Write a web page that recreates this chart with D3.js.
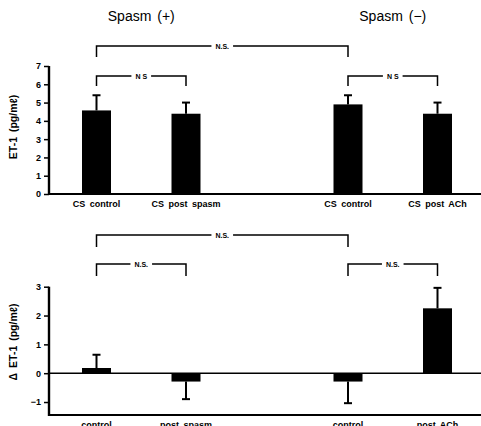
<!DOCTYPE html>
<html>
<head>
<meta charset="utf-8">
<script src="https://cdn.jsdelivr.net/npm/d3@7"></script>
<style>
  body { margin: 0; background: #fff; }
  svg { display: block; font-family: "Liberation Sans", Arial, sans-serif; }
</style>
</head>
<body>
<svg id="chart" width="481" height="426"></svg>
<script>
// data
var groups = ["Spasm (+)", "Spasm (\u2212)"];
var topCategories = ["CS control", "CS post spasm", "CS control", "CS post ACh"];
var topMean = [4.57, 4.39, 4.9, 4.39];
var topSD = [0.83, 0.61, 0.5, 0.61];
var topTicks = [0, 1, 2, 3, 4, 5, 6, 7];

var deltaCategories = ["control", "post spasm", "control", "post ACh"];
var deltaMean = [0.18, -0.29, -0.29, 2.25];
var deltaSD = [0.46, 0.61, 0.75, 0.71];
var deltaTicks = [-1, 0, 1, 2, 3];

var W = 481, axisX = 49, barW = 29;

var svg = d3.select("#chart");

// x: group centers, then two bars per group
var xGroup = d3.scalePoint().domain(groups).range([141.25, 392.75]);
var xInner = d3.scalePoint().domain([0, 1]).range([-44.75, 44.75]);
function xc(i) {
	return xGroup(groups[Math.floor(i / 2)]) + xInner(i % 2);
}

// group titles
svg.selectAll("text.group")
	.data(groups)
	.enter()
	.append("text")
	.attr("class", "group")
	.attr("x", function(d) { return xGroup(d); })
	.attr("y", 21)
	.attr("text-anchor", "middle")
	.style("font-size", "14px")
	.style("word-spacing", "2px")
	.text(function(d) { return d; });

function drawPanel(opt) {
	var y = d3.scaleLinear().domain(opt.domain).range(opt.range);
	var g = svg.append("g");

	// baseline / frame
	g.append("line")
		.attr("x1", axisX).attr("x2", W)
		.attr("y1", opt.range[0]).attr("y2", opt.range[0])
		.attr("stroke", "#000").attr("stroke-width", 2.2);

	if (opt.zeroLine) {
		g.append("line")
			.attr("x1", axisX).attr("x2", W)
			.attr("y1", y(0)).attr("y2", y(0))
			.attr("stroke", "#000").attr("stroke-width", 1.5);
	}

	// left axis
	var axis = d3.axisLeft(y)
		.tickValues(opt.ticks)
		.tickSize(5)
		.tickPadding(3)
		.tickFormat(function(d) { return d < 0 ? "\u2212" + Math.abs(d) : d; });
	var ag = g.append("g")
		.attr("transform", "translate(" + axisX + ",0)")
		.call(axis);
	ag.select(".domain").remove();
	ag.append("line")
		.attr("x1", 0).attr("x2", 0)
		.attr("y1", opt.range[0] + 1).attr("y2", y(opt.domain[1]))
		.attr("stroke", "#000").attr("stroke-width", 2.4);
	ag.selectAll(".tick line").attr("stroke-width", 1.5);
	ag.selectAll(".tick text")
		.style("font-size", "9px")
		.style("font-weight", "bold")
		.style("font-family", "Liberation Sans, Arial, sans-serif");

	// bars
	var rows = opt.mean.map(function(m, i) { return { m: m, sd: opt.sd[i], i: i }; });
	g.selectAll("rect.bar")
		.data(rows)
		.enter()
		.append("rect")
		.attr("x", function(d) { return xc(d.i) - barW / 2; })
		.attr("width", barW)
		.attr("y", function(d) { return Math.min(y(0), y(d.m)); })
		.attr("height", function(d) { return Math.abs(y(d.m) - y(0)); })
		.attr("fill", "#000");

	// error bars (one-sided, away from zero)
	rows.forEach(function(d) {
		var end = d.m >= 0 ? d.m + d.sd : d.m - d.sd;
		g.append("line")
			.attr("x1", xc(d.i)).attr("x2", xc(d.i))
			.attr("y1", y(d.m)).attr("y2", y(end))
			.attr("stroke", "#000").attr("stroke-width", 2);
		g.append("line")
			.attr("x1", xc(d.i) - 4).attr("x2", xc(d.i) + 4)
			.attr("y1", y(end)).attr("y2", y(end))
			.attr("stroke", "#000").attr("stroke-width", 2);
	});

	// category labels
	g.selectAll("text.cat")
		.data(opt.categories)
		.enter()
		.append("text")
		.attr("x", function(d, i) { return xc(i); })
		.attr("y", opt.labelY)
		.attr("text-anchor", "middle")
		.style("font-size", "9px")
		.style("font-weight", "bold")
		.style("word-spacing", "2px")
		.text(function(d) { return d; });

	// y title
	g.append("text")
		.attr("transform", "translate(17," + opt.titleY + ") rotate(-90)")
		.attr("text-anchor", "middle")
		.style("font-size", "10.5px")
		.style("font-weight", "bold")
		.style("word-spacing", "2px")
		.text(opt.title);

	// significance brackets
	opt.brackets.forEach(function(b) {
		var x1 = xc(b[0]), x2 = xc(b[1]), top = b[2], drop = b[3];
		var t = g.append("text")
			.attr("x", (x1 + x2) / 2)
			.attr("y", top + 2.5)
			.attr("text-anchor", "middle")
			.style("font-size", "7px")
			.style("font-weight", "bold")
			.text(b[4]);
		var half = t.node().getComputedTextLength() / 2 + 4;
		var mid = (x1 + x2) / 2;
		g.append("path")
			.attr("d", "M" + x1 + "," + (top + drop) + "V" + top + "H" + (mid - half))
			.attr("fill", "none").attr("stroke", "#000").attr("stroke-width", 1.5);
		g.append("path")
			.attr("d", "M" + (mid + half) + "," + top + "H" + x2 + "V" + (top + drop))
			.attr("fill", "none").attr("stroke", "#000").attr("stroke-width", 1.5);
	});
}

drawPanel({
	domain: [0, 7], range: [194, 66],
	ticks: topTicks, mean: topMean, sd: topSD,
	categories: topCategories, labelY: 207,
	title: "ET-1 (pg/m\u2113)", titleY: 127,
	zeroLine: false,
	brackets: [[0, 2, 46, 11, "N.S."], [0, 1, 76, 10, "N S"], [2, 3, 76, 10, "N S"]]
});

drawPanel({
	domain: [-1.45, 3], range: [415, 286.7],
	ticks: deltaTicks, mean: deltaMean, sd: deltaSD,
	categories: deltaCategories, labelY: 428,
	title: "\u0394 ET-1 (pg/m\u2113)", titleY: 342,
	zeroLine: true,
	brackets: [[0, 2, 235, 12, "N.S."], [0, 1, 264, 12, "N.S."], [2, 3, 264, 12, "N.S."]]
});
</script>
</body>
</html>
